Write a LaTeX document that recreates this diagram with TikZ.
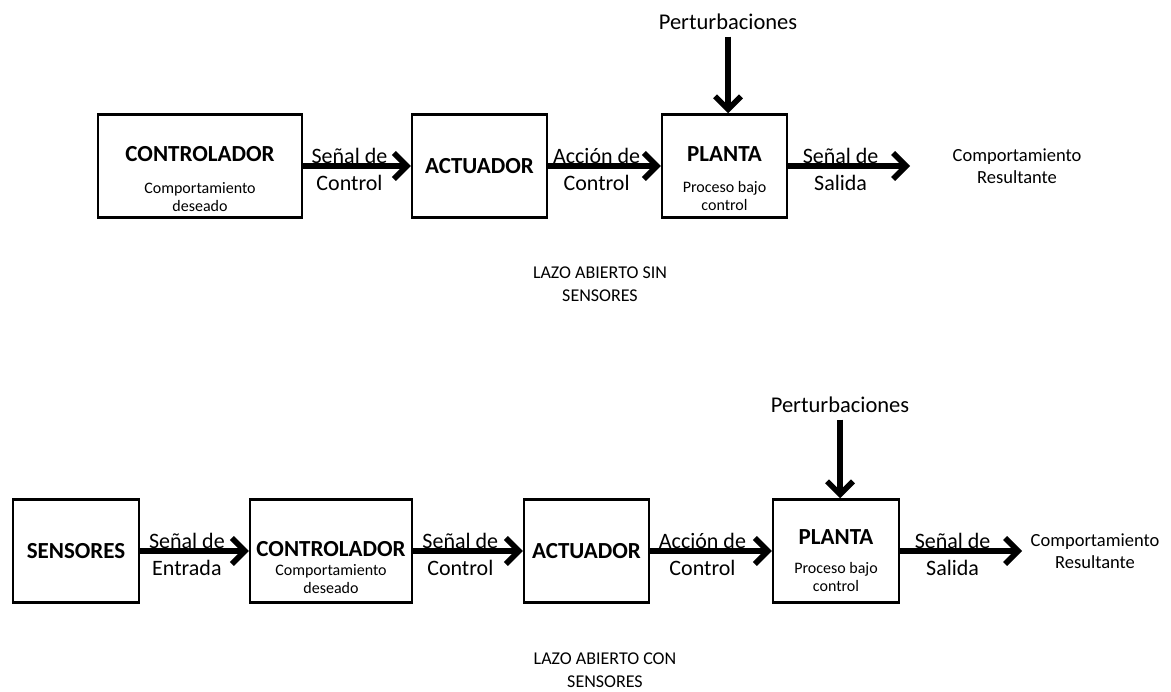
\documentclass[tikz,border=0pt]{standalone}
\usepackage{fontspec}
\setmainfont{Carlito}
\usetikzlibrary{arrows.meta}

\begin{document}
\begin{tikzpicture}[x=1pt,y=-1pt,
  bloque/.style={draw, line width=2.5pt, minimum height=103pt, inner sep=0pt, font=\fontsize{23}{26}\selectfont\bfseries},
  titulo/.style={anchor=base, inner sep=0pt, font=\fontsize{23}{26}\selectfont\bfseries},
  detalle/.style={anchor=north, align=center, inner sep=0pt, font=\fontsize{16}{18}\selectfont},
  senal/.style={line width=5.5pt, -{Straight Barb[length=13pt,width=26pt]}},
  arriba/.style={above, pos=.43, inner sep=0pt, font=\fontsize{22}{24}\selectfont},
  abajo/.style={below=6pt, pos=.43, inner sep=0pt, font=\fontsize{22}{24}\selectfont},
  salida/.style={align=center, font=\fontsize{18.5}{22.5}\selectfont},
  nota/.style={align=center, font=\fontsize{18}{23}\selectfont},
  perturb/.style={anchor=base, font=\fontsize{22.5}{26}\selectfont}]
\useasboundingbox (0,0) rectangle (1171,692);

\node[bloque, minimum width=204pt] (ctrlA) at (200,166) {};
\node[titulo] (ctrlAt) at (200,162) {CONTROLADOR};
\node[detalle] (ctrlAd) at (200,182) {Comportamiento\\deseado};
\node[bloque, minimum width=135pt] (actA) at (479.5,166) {ACTUADOR};
\node[bloque, minimum width=125pt] (plantA) at (724.5,166) {};
\node[titulo] (plantAt) at (724.5,162) {PLANTA};
\node[detalle] (plantAd) at (724.5,181) {Proceso bajo\\control};
\node[perturb] (pertA) at (728,30) {Perturbaciones};
\node[salida] (compA) at (1017,166) {Comportamiento\\Resultante};
\coordinate (finA) at (910,166);
\node[nota] (lazoA) at (600,284) {LAZO ABIERTO SIN\\SENSORES};

\draw[senal] (ctrlA.east) -- (actA.west) node[arriba] {Señal de} node[abajo] {Control};
\draw[senal] (actA.east) -- (plantA.west) node[arriba] {Acción de} node[abajo] {Control};
\draw[senal] (plantA.east) -- (finA) node[arriba] {Señal de} node[abajo] {Salida};
\draw[senal, shorten <=3pt] (pertA.south) -- (pertA.south |- plantA.north);

\node[bloque, minimum width=126pt] (sensB) at (76,551) {SENSORES};
\node[bloque, minimum width=162pt] (ctrlB) at (331,551) {};
\node[titulo] (ctrlBt) at (331,557) {CONTROLADOR};
\node[detalle] (ctrlBd) at (331,564) {Comportamiento\\deseado};
\node[bloque, minimum width=125pt] (actB) at (586.5,551) {ACTUADOR};
\node[bloque, minimum width=126pt] (plantB) at (836,551) {};
\node[titulo] (plantBt) at (836,545) {PLANTA};
\node[detalle] (plantBd) at (836,562) {Proceso bajo\\control};
\node[perturb] (pertB) at (840,413) {Perturbaciones};
\node[salida] (compB) at (1095,551) {Comportamiento\\Resultante};
\coordinate (finB) at (1022,551);
\node[nota] (lazoB) at (605,670) {LAZO ABIERTO CON\\SENSORES};

\draw[senal] (sensB.east) -- (ctrlB.west) node[arriba] {Señal de} node[abajo] {Entrada};
\draw[senal] (ctrlB.east) -- (actB.west) node[arriba] {Señal de} node[abajo] {Control};
\draw[senal] (actB.east) -- (plantB.west) node[arriba] {Acción de} node[abajo] {Control};
\draw[senal] (plantB.east) -- (finB) node[arriba] {Señal de} node[abajo] {Salida};
\draw[senal, shorten <=3pt] (pertB.south) -- (pertB.south |- plantB.north);
\end{tikzpicture}
\end{document}
